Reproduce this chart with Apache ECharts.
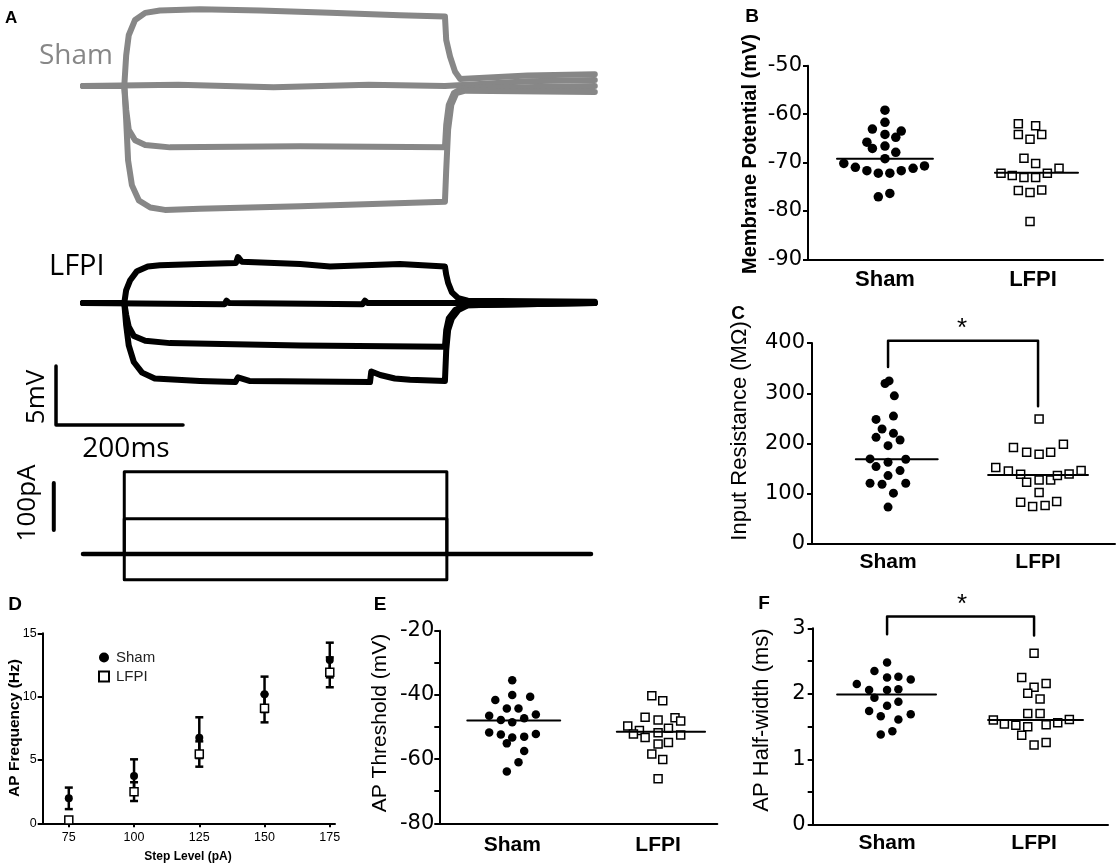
<!DOCTYPE html>
<html>
<head>
<meta charset="utf-8">
<title>Sham vs LFPI</title>
<script src="https://cdn.jsdelivr.net/npm/echarts@6/dist/echarts.min.js"></script>
<style>
    html, body { margin: 0; padding: 0; background: #fff; }
    #chart_main { width: 1120px; height: 867px; }
</style>
</head>
<body>
<div id="chart_main"></div>
<script>
// A: example traces, time in ms, potential in mV relative to rest
const shamUp = [[0,0],[65,0],[68,2.6],[72,4.3],[82,5.6],[98,6.2],[121,6.4],[184,6.5],[279,6.4],[389,6.2],[499,6.0],[570,5.9],[572,3.9],[578,2.5],[586,1.2],[594,0.6],[700,0.9],[806,1.0]];
const shamRest = [[0,0],[150,0.1],[300,-0.1],[450,0.1],[570,0],[700,0.4],[806,0.5]];
const shamDown1 = [[0,0],[65,0],[68,-2.0],[72,-3.7],[82,-4.6],[98,-5.0],[137,-5.2],[342,-5.1],[570,-5.2],[572,-3.3],[576,-1.6],[584,-0.6],[597,-0.2],[806,0]];
const shamDown2 = [[0,0],[65,0],[68,-2.9],[71,-6.3],[77,-8.4],[88,-9.7],[106,-10.3],[129,-10.5],[184,-10.4],[342,-10.2],[570,-9.8],[572,-7.1],[575,-3.7],[580,-1.6],[588,-0.6],[602,-0.4],[806,-0.5]];

const lfpiUp = [[0,0],[65,0],[68,1.1],[74,1.9],[85,2.7],[102,3.1],[121,3.2],[184,3.3],[241,3.4],[244,3.9],[250,3.5],[342,3.3],[389,3.1],[499,3.3],[570,3.1],[572,2.4],[575,1.7],[581,0.9],[591,0.4],[606,0.2],[806,0.1]];
const lfpiRest = [[0,0],[223,-0.1],[226,0.2],[230,0],[440,-0.1],[444,0.2],[448,0],[570,0],[806,0]];
const lfpiDown1 = [[0,0],[65,0],[68,-1.0],[72,-2.0],[80,-2.8],[98,-3.2],[137,-3.4],[342,-3.6],[570,-3.7],[572,-2.3],[576,-1.3],[586,-0.6],[602,-0.2],[806,0]];
const lfpiDown2 = [[0,0],[65,0],[68,-1.9],[72,-3.6],[80,-5.0],[93,-5.9],[113,-6.4],[184,-6.6],[240,-6.7],[244,-6.3],[262,-6.6],[452,-6.7],[454,-5.8],[468,-6.1],[491,-6.4],[515,-6.5],[570,-6.6],[572,-4.0],[575,-2.3],[581,-1.3],[591,-0.6],[606,-0.2],[806,0]];

// current steps (pA), step on/off (ms)
const currentSteps = [175, 75, 0, -55];
const stepOnMs = 65, stepOffMs = 573, traceEndMs = 806;
const scaleMs = 200, scaleMv = 5, scalePa = 100;

const groups = ['Sham', 'LFPI'];

// B: membrane potential (mV)
const bShamMv = [-59.2,-61.7,-63.1,-63.5,-64.2,-64.8,-65.8,-67.1,-66.6,-67.9,-69.2,-70.2,-71.0,-71.7,-72.2,-72.2,-71.7,-71.2,-70.7,-77.1,-76.4];
const bShamJit = [0,0,-0.085,0.11,0,0.073,-0.122,-0.085,0,0.073,0,-0.278,-0.2,-0.122,-0.045,0.033,0.11,0.19,0.267,-0.045,0.033];
const bLfpiMv = [-62.0,-62.4,-64.2,-64.2,-65.2,-69.1,-70.2,-72.2,-72.7,-73.1,-73.1,-72.2,-71.2,-75.8,-76.2,-75.7,-82.2];
const bLfpiJit = [-0.099,0.018,-0.099,0.059,-0.02,-0.061,0.018,-0.216,-0.14,-0.061,0.018,0.097,0.176,-0.099,-0.02,0.059,-0.02];
const bMeans = [-69.2, -72.1];

// C: input resistance (MOhm)
const cShamMohm = [319.4,324.6,294.9,248,254.6,228.8,220.2,212.3,207,195.7,169.3,162.7,168.6,154,146.1,136.2,121,119,121,101.2,73.4];
const cShamJit = [-0.02,0.007,0.042,-0.08,0.036,-0.04,0.036,-0.08,0.08,0,-0.12,0,0.118,-0.08,0.08,0,-0.12,-0.04,0.118,0.036,0];
const cLfpiMohm = [248.6,191.8,182.5,178.5,182.5,198.4,152.1,145.5,138.9,123,127.6,127.6,136.2,139.5,146.1,102.5,83.3,74.7,76.7,84.6];
const cLfpiJit = [0.007,-0.164,-0.076,0.007,0.084,0.169,-0.282,-0.198,-0.116,-0.076,0.007,0.084,0.129,0.207,0.287,0.007,-0.116,-0.036,0.047,0.124];
const cMeans = [168.6, 137.5];
const cBracket = [352, 404.6, 274]; // left leg end, top, right leg end

// D: AP frequency (Hz) vs step level (pA), mean +/- SEM
const stepLevels = [75, 100, 125, 150, 175];
const dShamHz = [1.97, 3.74, 6.76, 10.18, 12.89];
const dShamSem = [0.85, 1.31, 1.61, 1.40, 1.37];
const dLfpiHz = [0.26, 2.50, 5.47, 9.08, 11.92];
const dLfpiSem = [0.10, 0.74, 1.00, 1.11, 1.18];

// E: AP threshold (mV)
const eShamMv = [-35.4,-40.0,-41.6,-40.6,-44.2,-44.2,-46.5,-46.1,-47.8,-48.5,-47.3,-51.7,-52.3,-52.2,-53.3,-53.0,-55.1,-57.5,-61.0,-63.9];
const eShamJit = [0,0,-0.116,0.123,-0.037,0.043,-0.158,0.162,-0.078,0,0.082,-0.158,-0.078,0.162,0,0.082,-0.037,0.082,0.043,-0.037];
const eLfpiMv = [-40.3,-41.8,-47.0,-47.8,-47.1,-48.1,-49.7,-51.1,-52.2,-51.8,-50.4,-52.5,-53.3,-55.3,-54.8,-58.4,-60.1,-66.1];
const eLfpiJit = [-0.043,0.032,-0.089,0,0.116,0.155,-0.208,-0.128,-0.169,0,0.071,0.155,-0.089,0,0.071,-0.043,0.032,0];
const eMeans = [-48.0, -51.5];

// F: AP half-width (ms)
const fShamMs = [2.48,2.35,2.25,2.26,2.22,2.15,2.06,2.06,2.07,1.94,1.82,1.88,1.74,1.66,1.61,1.69,1.38,1.43];
const fShamJit = [0,-0.086,0,0.077,0.161,-0.206,-0.122,0,0.077,-0.086,0,0.077,-0.122,-0.043,0.077,0.161,-0.043,0.036];
const fLfpiMs = [2.62,2.25,2.16,2.10,2.01,1.92,1.70,1.70,1.60,1.54,1.52,1.50,1.53,1.56,1.61,1.37,1.22,1.26];
const fLfpiJit = [0,-0.084,0.082,0,-0.043,0.041,-0.043,0.041,-0.277,-0.202,-0.124,-0.043,0.082,0.161,0.24,-0.084,0,0.082];
const fMeans = [1.99, 1.60];
const fBracket = [2.91, 3.18, 2.89];

const SHAM_GREY = '#878787';
const ARIAL = 'Liberation Sans';
const NUM_FONT = 'DejaVu Sans';
const A_FONT = 'Open Sans';

let myChart = echarts.init(document.getElementById('chart_main'), null, {renderer: 'canvas'});

/**
 * 一条记录曲线
 */
function traceLine(gi, data, color, width, z) {
    return {
        type: 'line', xAxisIndex: gi, yAxisIndex: gi, data: data,
        symbol: 'none', showSymbol: false, clip: false, silent: true,
        lineStyle: {color: color, width: width, cap: 'round', join: 'round', opacity: 1},
        z: z || 2
    };
}

function hiddenAxes(gi, ymin, ymax) {
    return {
        x: {type: 'value', gridIndex: gi, min: -70, max: 810, show: false},
        y: {type: 'value', gridIndex: gi, min: ymin, max: ymax, show: false}
    };
}

function groupXAxis(gi, min, max, fontSize, margin) {
    return {
        type: 'value', gridIndex: gi, min: min, max: max,
        axisLine: {onZero: false, lineStyle: {color: '#000', width: 2}},
        axisTick: {show: false},
        splitLine: {show: false},
        axisLabel: {
            customValues: [1, 2],
            formatter: function (v) { return groups[Math.round(v) - 1]; },
            fontFamily: ARIAL, fontWeight: 'bold', fontSize: fontSize, color: '#000', margin: margin
        }
    };
}

function valueYAxis(gi, min, max, interval, minor, label) {
    return {
        type: 'value', gridIndex: gi, min: min, max: max, interval: interval,
        axisLine: {show: true, onZero: false, lineStyle: {color: '#000', width: 2}},
        axisTick: {show: true, length: 5, lineStyle: {color: '#000', width: 2}},
        minorTick: {show: minor, splitNumber: 2, length: 5, lineStyle: {color: '#000', width: 2}},
        splitLine: {show: false},
        minorSplitLine: {show: false},
        axisLabel: Object.assign({fontFamily: NUM_FONT, fontSize: 21, color: '#000', margin: 7}, label || {})
    };
}

const dotStyle = {color: '#000', opacity: 1};
const squareStyle = {color: '#fff', borderColor: '#000', borderWidth: 1.5, opacity: 1};

/**
 * 散点 + 均值线
 */
function dotPanel(gi, shamY, shamJit, lfpiY, lfpiJit, means, spans, dotSize, sqSize) {
    return [
        {
            type: 'scatter', name: 'Sham ' + gi, xAxisIndex: gi, yAxisIndex: gi,
            data: shamY.map(function (v, i) { return [1 + shamJit[i], v]; }),
            symbol: 'circle', symbolSize: dotSize, itemStyle: dotStyle, silent: true, z: 3
        },
        {
            type: 'scatter', name: 'LFPI ' + gi, xAxisIndex: gi, yAxisIndex: gi,
            data: lfpiY.map(function (v, i) { return [2 + lfpiJit[i], v]; }),
            symbol: 'rect', symbolSize: sqSize, itemStyle: squareStyle, silent: true, z: 3
        },
        traceLine(gi, [[spans[0][0], means[0]], [spans[0][1], means[0]]], '#000', 2, 4),
        traceLine(gi, [[spans[1][0], means[1]], [spans[1][1], means[1]]], '#000', 2, 4)
    ];
}

function bracket(gi, legs) {
    return traceLine(gi, [[1, legs[0]], [1, legs[1]], [2, legs[1]], [2, legs[2]]], '#000', 2.5, 4);
}

function errorBars(gi, xs, means, sems) {
    return {
        type: 'custom', xAxisIndex: gi, yAxisIndex: gi, silent: true, z: 2,
        data: xs.map(function (x, i) { return [x, means[i], sems[i]]; }),
        encode: {x: 0, y: 1},
        renderItem: function (params, api) {
            let x = api.value(0), m = api.value(1), e = api.value(2);
            let top = api.coord([x, m + e]);
            let bot = api.coord([x, m - e]);
            let st = {stroke: '#000', lineWidth: 2.5};
            return {
                type: 'group', children: [
                    {type: 'line', shape: {x1: top[0], y1: top[1], x2: bot[0], y2: bot[1]}, style: st},
                    {type: 'line', shape: {x1: top[0] - 4, y1: top[1], x2: top[0] + 4, y2: top[1]}, style: st},
                    {type: 'line', shape: {x1: bot[0] - 4, y1: bot[1], x2: bot[0] + 4, y2: bot[1]}, style: st}
                ]
            };
        }
    };
}

function txt(x, y, text, size, opts) {
    opts = opts || {};
    return {
        type: 'text', x: x, y: y, rotation: opts.rot || 0, silent: true, z: 10,
        style: {
            text: text, fill: opts.color || '#000',
            fontFamily: opts.font || ARIAL, fontSize: size, fontWeight: opts.weight || 'normal',
            align: opts.align || 'center', verticalAlign: 'middle',
            textAlign: opts.align || 'center', textVerticalAlign: 'middle'
        }
    };
}

// A 面板坐标
const aSham = hiddenAxes(0, -13.05, 7.288);
const aLfpi = hiddenAxes(1, -11.61, 5.339);
const aCur = hiddenAxes(2, -76.6, 200);

let series = [];
series.push(traceLine(0, shamRest, SHAM_GREY, 6));
series.push(traceLine(0, shamUp, SHAM_GREY, 6));
series.push(traceLine(0, shamDown1, SHAM_GREY, 6));
series.push(traceLine(0, shamDown2, SHAM_GREY, 6));
series.push(traceLine(1, lfpiRest, '#000', 6));
series.push(traceLine(1, lfpiUp, '#000', 6));
series.push(traceLine(1, lfpiDown1, '#000', 6));
series.push(traceLine(1, lfpiDown2, '#000', 6));

// 电流阶跃
currentSteps.forEach(function (amp) {
    series.push(traceLine(2, [[stepOnMs, 0], [stepOnMs, amp], [stepOffMs, amp], [stepOffMs, 0]], '#000', 3));
});
series.push(traceLine(2, [[0, 0], [traceEndMs - 6, 0]], '#000', 4.5));

// 比例尺
const barT = -42.5, barTopMv = -5.34, barPaT = -46, barPaLow = 51;
series.push(traceLine(1, [[barT, barTopMv], [barT, barTopMv - scaleMv], [barT + scaleMs, barTopMv - scaleMv]], '#000', 3.5));
series.push(traceLine(2, [[barPaT, barPaLow], [barPaT, barPaLow + scalePa]], '#000', 4));

// B, C, E, F
series = series.concat(dotPanel(3, bShamMv, bShamJit, bLfpiMv, bLfpiJit, bMeans, [[0.676, 1.324], [1.743, 2.304]], 9.5, 8));
series = series.concat(dotPanel(4, cShamMohm, cShamJit, cLfpiMohm, cLfpiJit, cMeans, [[0.785, 1.331], [1.667, 2.333]], 9, 8));
series.push(bracket(4, cBracket));
series = series.concat(dotPanel(6, eShamMv, eShamJit, eLfpiMv, eLfpiJit, eMeans, [[0.692, 1.329], [1.717, 2.322]], 8.5, 8));
series = series.concat(dotPanel(7, fShamMs, fShamJit, fLfpiMs, fLfpiJit, fMeans, [[0.66, 1.333], [1.687, 2.333]], 8.5, 8));
series.push(bracket(7, fBracket));

// D
series.push(errorBars(5, stepLevels, dShamHz, dShamSem));
series.push(errorBars(5, stepLevels, dLfpiHz, dLfpiSem));
series.push({
    type: 'scatter', name: 'Sham', xAxisIndex: 5, yAxisIndex: 5,
    data: stepLevels.map(function (s, i) { return [s, dShamHz[i]]; }),
    symbol: 'circle', symbolSize: 8, itemStyle: dotStyle, silent: true, z: 3
});
series.push({
    type: 'scatter', name: 'LFPI', xAxisIndex: 5, yAxisIndex: 5,
    data: stepLevels.map(function (s, i) { return [s, dLfpiHz[i]]; }),
    symbol: 'rect', symbolSize: 8, itemStyle: squareStyle, silent: true, z: 4
});

let option = {
    backgroundColor: '#fff',
    animation: false,
    grid: [
        {left: 38.55, top: 0, width: 558.8, height: 240},
        {left: 38.55, top: 240, width: 558.8, height: 200},
        {left: 38.55, top: 460, width: 558.8, height: 130},
        {left: 808, top: 65.7, width: 295, height: 193.6},
        {left: 812, top: 343, width: 303, height: 201},
        {left: 42.7, top: 633.3, width: 292.3, height: 190},
        {left: 439.3, top: 630.7, width: 278, height: 192.6},
        {left: 812.7, top: 628.3, width: 295.3, height: 196.7}
    ],
    xAxis: [
        aSham.x, aLfpi.x, aCur.x,
        groupXAxis(3, 0.48, 2.473, 22, 10),
        groupXAxis(4, 0.493, 2.513, 21, 8),
        {
            type: 'value', gridIndex: 5, min: 65, max: 177,
            axisLine: {onZero: false, lineStyle: {color: '#000', width: 2}},
            axisTick: {show: true, length: 4, customValues: stepLevels, lineStyle: {color: '#000', width: 2}},
            splitLine: {show: false},
            axisLabel: {customValues: stepLevels, fontFamily: ARIAL, fontSize: 12.5, color: '#000', margin: 8}
        },
        groupXAxis(6, 0.5, 2.406, 21, 11),
        groupXAxis(7, 0.494, 2.503, 21, 8)
    ],
    yAxis: [
        aSham.y, aLfpi.y, aCur.y,
        valueYAxis(3, -90, -50, 10, false, {margin: 6}),
        valueYAxis(4, 0, 400, 100, false, {margin: 7}),
        valueYAxis(5, 0, 15, 5, false, {fontFamily: ARIAL, fontSize: 12.5, margin: 6}),
        valueYAxis(6, -80, -20, 20, true, {margin: 5}),
        valueYAxis(7, 0, 3, 1, true, {margin: 7})
    ],
    legend: {
        data: ['Sham', 'LFPI'], orient: 'vertical', left: 93, top: 645,
        itemWidth: 10, itemHeight: 10, itemGap: 4, selectedMode: false,
        textStyle: {fontFamily: ARIAL, fontSize: 15, color: '#222', padding: [0, 0, 0, 2]}
    },
    series: series,
    graphic: [
        txt(5, 18, 'A', 17, {weight: 'bold', align: 'left'}),
        txt(39, 56, 'Sham', 28, {font: A_FONT, color: SHAM_GREY, align: 'left'}),
        txt(49, 267, 'LFPI', 29, {font: A_FONT, align: 'left'}),
        txt(37, 397, '5mV', 26, {font: A_FONT, rot: Math.PI / 2}),
        txt(126, 449, '200ms', 28, {font: A_FONT}),
        txt(28, 503, '100pA', 26, {font: A_FONT, rot: Math.PI / 2}),
        txt(752, 17, 'B', 19, {weight: 'bold'}),
        txt(738, 314, 'C', 19, {weight: 'bold'}),
        txt(15, 605, 'D', 19, {weight: 'bold'}),
        txt(380, 605, 'E', 19, {weight: 'bold'}),
        txt(764, 604, 'F', 19, {weight: 'bold'}),
        txt(750, 154, 'Membrane Potential (mV)', 20, {weight: 'bold', rot: Math.PI / 2}),
        txt(740, 431, 'Input Resistance (MΩ)', 22, {rot: Math.PI / 2}),
        txt(15, 728, 'AP Frequency (Hz)', 15.5, {weight: 'bold', rot: Math.PI / 2}),
        txt(188, 857, 'Step Level (pA)', 12, {weight: 'bold'}),
        txt(380, 723, 'AP Threshold (mV)', 21, {rot: Math.PI / 2}),
        txt(762, 720, 'AP Half-width (ms)', 22, {rot: Math.PI / 2}),
        txt(962, 329, '*', 26),
        txt(962, 605, '*', 26)
    ]
};

myChart.setOption(option);
</script>
</body>
</html>
